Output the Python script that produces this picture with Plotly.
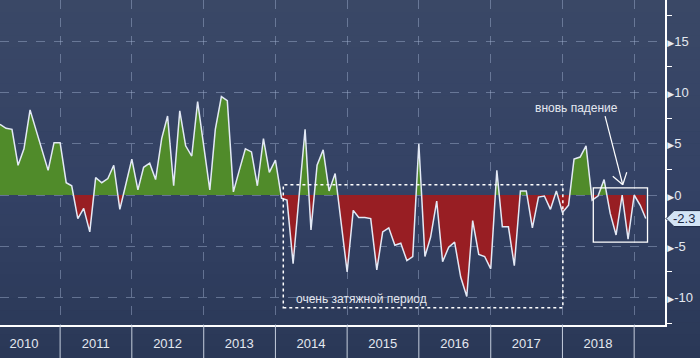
import numpy as np
import pandas as pd
import plotly.graph_objects as go

# ---------------- data ----------------
start_month = "2010-03-01"
values = [
    6.9, 6.5, 6.4, 2.9, 4.5, 8.3, 6.3, 4.3, 2.4, 5.1,            # 2010 Mar-Dec
    5.1, 1.2, 0.9, -2.3, -1.3, -3.6, 1.7, 1.2, 1.6, 2.9, -1.4, 1.0,  # 2011
    3.5, 0.5, 2.7, 3.1, 1.5, 5.5, 7.7, 0.9, 8.2, 4.8, 3.8, 9.1,  # 2012
    4.8, 0.5, 6.4, 9.6, 9.2, 0.3, 2.4, 4.5, 4.2, 0.9, 5.5, 2.2,  # 2013
    3.4, -0.3, -0.5, -6.7, -0.2, 6.4, -3.4, 2.9, 4.4, 0.4, 2.1, -2.7,  # 2014
    -7.5, -1.5, -2.2, -2.2, -2.3, -7.3, -3.6, -3.2, -4.9, -4.7, -6.4, -6.0,  # 2015
    5.0, -6.0, -4.1, -0.6, -6.5, -5.1, -4.6, -8.0, -9.9, -2.5, -5.8, -6.0,  # 2016
    -7.2, 2.4, -3.1, -3.1, -6.9, 0.4, 0.4, -3.2, -0.2, -0.1, -1.4, 0.4,  # 2017
    -1.7, -1.0, 3.5, 3.7, 4.8, -0.5, -0.1, 1.5, -1.8, -3.9, 0.0, -4.3,  # 2018
    0.0, -1.0, -2.3,                                             # 2019
]
years = [2010, 2011, 2012, 2013, 2014, 2015, 2016, 2017, 2018]
year_labels = [str(y) for y in years]
y_ticks = [-10, -5, 0, 5, 10, 15]
y_minor_ticks = [-12.5, -7.5, -2.5, 2.5, 7.5, 12.5, 17.5]

dates = pd.date_range(start_month, periods=len(values), freq="MS")

# ---------------- split fill at zero crossings ----------------
t_ns = dates.asi8.astype(float)
xp, yp, xn, yn = [], [], [], []
for i in range(len(values)):
    v = values[i]
    if i > 0:
        v0 = values[i - 1]
        if (v0 > 0 and v < 0) or (v0 < 0 and v > 0):
            tc = t_ns[i - 1] + (t_ns[i] - t_ns[i - 1]) * v0 / (v0 - v)
            dc = pd.Timestamp(int(tc))
            xp.append(dc); yp.append(0.0)
            xn.append(dc); yn.append(0.0)
    xp.append(dates[i]); yp.append(max(v, 0.0))
    xn.append(dates[i]); yn.append(min(v, 0.0))

GREEN = "rgb(80,139,42)"
RED = "rgb(152,30,35)"
LINE = "#e3e9f5"
TXT = "#e4e8f0"
GRID = "rgba(165,180,210,0.45)"
FONT = "Liberation Sans"

fig = go.Figure()
fig.add_trace(go.Scatter(x=xp, y=yp, mode="lines", line=dict(width=0),
                         fill="tozeroy", fillcolor=GREEN, hoverinfo="skip"))
fig.add_trace(go.Scatter(x=xn, y=yn, mode="lines", line=dict(width=0),
                         fill="tozeroy", fillcolor=RED, hoverinfo="skip"))
fig.add_trace(go.Scatter(x=dates, y=values, mode="lines",
                         line=dict(color=LINE, width=1.5)))

x_range = ["2010-03-01", "2019-06-07"]
y_range = [-12.68, 19.02]

year_starts = [f"{y + 1}-01-01" for y in years]
mid_years = [f"{y}-07-01" for y in years]

W, H = 700, 358
M_R, M_B = 35, 33
fig.update_layout(
    width=W, height=H,
    margin=dict(l=0, r=M_R, t=0, b=M_B, pad=0),
    paper_bgcolor="#2c3a5a",
    plot_bgcolor="rgba(0,0,0,0)",
    showlegend=False,
    font=dict(family=FONT, size=13, color=TXT),
    xaxis=dict(
        type="date", range=x_range, showline=True, linecolor="white", linewidth=1.5,
        tickmode="array", tickvals=mid_years, ticktext=year_labels, ticks="",
        showgrid=False, zeroline=False, tickfont=dict(size=13, color=TXT),
        ticklabelstandoff=6,
        minor=dict(tickmode="array", tickvals=year_starts, showgrid=True,
                   gridcolor=GRID, griddash="dash", gridwidth=1, ticks=""),
    ),
    yaxis=dict(
        side="right", range=y_range, showline=True, linecolor="white", linewidth=1.5,
        tickmode="array", tickvals=y_ticks,
        ticktext=["<span style='font-family:DejaVu Sans;font-size:9px'>\u25b6</span>"
                  + ("-" if v < 0 else "") + str(abs(v)) for v in y_ticks],
        ticks="", showgrid=True, gridcolor=GRID, griddash="dash", gridwidth=1,
        zeroline=False, tickfont=dict(size=13, color=TXT), ticklabelstandoff=-2,
        minor=dict(tickmode="array", tickvals=y_minor_ticks, ticks="outside",
                   ticklen=5, tickcolor="white", tickwidth=1, showgrid=False),
    ),
)

shapes = []
# background vertical gradient (paper strips)
plot_h = H - M_B
n_strips = 30
top_c = np.array([58, 72, 102])
mid_c = np.array([52, 66, 101])
bot_c = np.array([42, 56, 87])
for k in range(n_strips):
    f = (k + 0.5) / n_strips  # 0 top -> 1 bottom
    if f < 0.5:
        c = top_c + (mid_c - top_c) * (f / 0.5)
    else:
        c = mid_c + (bot_c - mid_c) * ((f - 0.5) / 0.5)
    py0 = H * k / n_strips
    py1 = H * (k + 1) / n_strips + 0.6
    shapes.append(dict(type="rect", xref="paper", yref="paper", layer="below",
                       x0=0, x1=W / (W - M_R),
                       y0=1 - py1 / plot_h, y1=1 - py0 / plot_h,
                       fillcolor="rgb(%d,%d,%d)" % tuple(c.round().astype(int)),
                       line=dict(width=0)))
# year separators in bottom band
for d in year_starts:
    shapes.append(dict(type="line", xref="x", yref="paper", x0=d, x1=d, y0=0, y1=-0.2,
                       line=dict(color="#c5cedd", width=1)))
# dotted rectangle
shapes.append(dict(type="rect", xref="x", yref="y", x0="2014-02-10", x1="2018-01-03",
                   y0=-11.0, y1=1.0, line=dict(color="white", width=1.5, dash="dot")))
# solid rectangle
shapes.append(dict(type="rect", xref="x", yref="y", x0="2018-06-07", x1="2019-03-10",
                   y0=-4.6, y1=0.7, line=dict(color="white", width=1.3)))
# arrow
tip_x, tip_y = "2018-11-04", 1.0
shapes.append(dict(type="line", xref="x", yref="y", x0="2018-08-06", y0=7.7,
                   x1=tip_x, y1=tip_y, line=dict(color="white", width=1.2)))
for dx, dy in [(-10, 8.5), (4, 12.5)]:
    shapes.append(dict(type="line", xref="x", yref="y", xsizemode="pixel", ysizemode="pixel",
                       xanchor=tip_x, yanchor=tip_y, x0=0, y0=0, x1=dx, y1=dy,
                       line=dict(color="white", width=1.2)))
# last value tag
last_v = values[-1]
shapes.append(dict(type="path", xref="paper", yref="y", xsizemode="pixel", ysizemode="pixel",
                   xanchor=1, yanchor=last_v,
                   path="M 1 0 L 9 8 L 45 8 L 45 -8 L 9 -8 Z",
                   fillcolor="#d3e4f5", line=dict(color="#1c2844", width=1)))
fig.update_layout(shapes=shapes)

fig.add_annotation(x="2018-03-16", y=8.5, xref="x", yref="y", text="вновь падение",
                   showarrow=False, font=dict(size=12, color=TXT))
fig.add_annotation(x="2015-03-13", y=-10.15, xref="x", yref="y",
                   text="очень затяжной период", showarrow=False,
                   font=dict(size=12, color=TXT))
fig.add_annotation(x=1, y=last_v, xref="paper", yref="y", xanchor="left", xshift=6,
                   text=f"{last_v:.1f}", showarrow=False,
                   font=dict(size=13, color="#1c2844"))

fig.write_html("out.html", config={"displayModeBar": False},
               post_script="document.body.style.margin='0';document.body.style.overflow='hidden';")
